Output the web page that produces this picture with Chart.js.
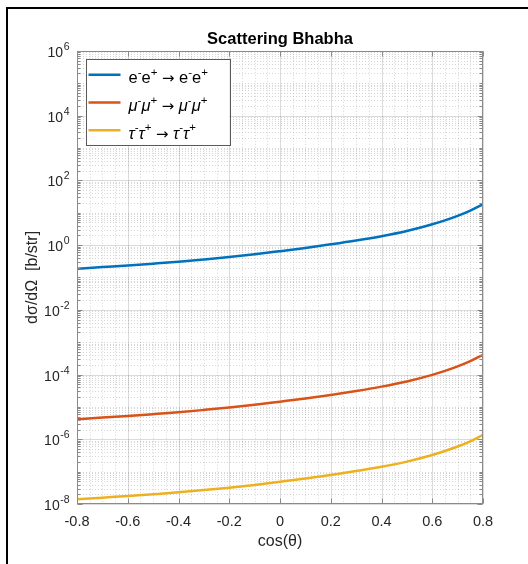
<!DOCTYPE html>
<html>
<head>
<meta charset="utf-8">
<script src="https://cdn.jsdelivr.net/npm/chart.js@4.4.1/dist/chart.umd.min.js"></script>
<style>
  html, body { margin: 0; padding: 0; background: #fff; }
</style>
</head>
<body>
<canvas id="bhabha" width="528" height="564"></canvas>
<script>
// data
const cosTheta = [-0.8, -0.7, -0.6, -0.5, -0.4, -0.3, -0.2, -0.1, 0, 0.1, 0.2, 0.3, 0.4, 0.5, 0.6, 0.65, 0.7, 0.75, 0.8]
const sigmaEE = [0.186, 0.209, 0.234, 0.266, 0.305, 0.359, 0.427, 0.519, 0.646, 0.813, 1.05, 1.38, 1.88, 2.72, 4.37, 5.77, 7.94, 11.6, 18.2]
const sigmaMuMu = [4.17e-6, 4.68e-6, 5.25e-6, 5.96e-6, 6.84e-6, 8.04e-6, 9.55e-6, 1.16e-5, 1.45e-5, 1.82e-5, 2.34e-5, 3.09e-5, 4.22e-5, 6.10e-5, 9.77e-5, 1.29e-4, 1.78e-4, 2.59e-4, 4.07e-4]
const sigmaTauTau = [1.40e-8, 1.57e-8, 1.76e-8, 2.00e-8, 2.29e-8, 2.69e-8, 3.20e-8, 3.89e-8, 4.84e-8, 6.10e-8, 7.85e-8, 1.04e-7, 1.41e-7, 2.04e-7, 3.27e-7, 4.33e-7, 5.96e-7, 8.67e-7, 1.36e-6]

const xTicks = [-0.8, -0.6, -0.4, -0.2, 0, 0.2, 0.4, 0.6, 0.8]
const yTickExps = [-8, -6, -4, -2, 0, 2, 4, 6]
const seriesLabels = ['e⁻e⁺ → e⁻e⁺', 'μ⁻μ⁺ → μ⁻μ⁺', 'τ⁻τ⁺ → τ⁻τ⁺']
const seriesColors = ['#0072BD', '#D95319', '#EDB120']

const FONT = '"Liberation Sans", Arial, Helvetica, sans-serif'
const AXIS_GRAY = '#8a8a8a'
const TEXT_GRAY = '#262626'

function toPoints(ys) {
  return cosTheta.map((c, i) => ({x: c, y: ys[i]}))
}

function hLine(ctx, x1, x2, y) {
  ctx.beginPath(); ctx.moveTo(x1, y); ctx.lineTo(x2, y); ctx.stroke()
}
function vLine(ctx, x, y1, y2) {
  ctx.beginPath(); ctx.moveTo(x, y1); ctx.lineTo(x, y2); ctx.stroke()
}

// text with ⁻ ⁺ raised and greek letters in italic, like the matlab tex labels
function drawRich(ctx, text, x, yBase, size) {
  let cx = x
  for (const ch of text) {
    let t = ch, dy = 0
    if (ch === '⁻' || ch === '⁺') {
      t = ch === '⁻' ? '-' : '+'
      ctx.font = (size * 0.7) + 'px ' + FONT
      dy = -size * 0.45
    } else if (ch === 'μ' || ch === 'τ') {
      ctx.font = 'italic ' + size + 'px ' + FONT
    } else if (ch === '→') {
      ctx.font = (size * 0.9) + 'px "DejaVu Sans", ' + FONT
    } else {
      ctx.font = size + 'px ' + FONT
    }
    ctx.fillText(t, cx, yBase + dy)
    cx += ctx.measureText(t).width
  }
}

// grid, box, ticks, legend and frame in matlab style
const matlabAxes = {
  id: 'matlabAxes',
  beforeDatasetsDraw(chart) {
    const {ctx, chartArea: a, scales: {x, y}} = chart
    ctx.save()
    ctx.lineWidth = 1

    // minor grid (dotted)
    ctx.strokeStyle = 'rgba(0,0,0,0.16)'
    ctx.setLineDash([1, 2])
    for (let e = yTickExps[0]; e < yTickExps[yTickExps.length - 1]; e++) {
      for (let k = 1; k < 10; k++) {
        if (k === 1 && yTickExps.includes(e)) continue
        const py = Math.round(y.getPixelForValue(k * Math.pow(10, e))) + 0.5
        hLine(ctx, a.left, a.right, py)
      }
    }
    for (let i = 0; i < xTicks.length - 1; i++) {
      for (let j = 1; j < 4; j++) {
        const v = xTicks[i] + (xTicks[i + 1] - xTicks[i]) * j / 4
        const px = Math.round(x.getPixelForValue(v)) + 0.5
        vLine(ctx, px, a.top, a.bottom)
      }
    }

    // major grid
    ctx.setLineDash([])
    ctx.strokeStyle = 'rgba(0,0,0,0.14)'
    yTickExps.forEach(e => {
      const py = Math.round(y.getPixelForValue(Math.pow(10, e))) + 0.5
      hLine(ctx, a.left, a.right, py)
    })
    xTicks.forEach(v => {
      const px = Math.round(x.getPixelForValue(v)) + 0.5
      vLine(ctx, px, a.top, a.bottom)
    })
    ctx.restore()
  },

  afterDatasetsDraw(chart) {
    const {ctx, chartArea: a, scales: {x, y}} = chart
    ctx.save()
    ctx.strokeStyle = AXIS_GRAY
    ctx.lineWidth = 1
    const L = Math.round(a.left) + 0.5, R = Math.round(a.right) - 0.5
    const T = Math.round(a.top) + 0.5, B = Math.round(a.bottom) - 0.5
    ctx.strokeRect(L, T, R - L, B - T)

    // y ticks inside, left and right
    for (let e = yTickExps[0]; e < yTickExps[yTickExps.length - 1]; e++) {
      for (let k = 1; k < 10; k++) {
        const py = Math.round(y.getPixelForValue(k * Math.pow(10, e))) + 0.5
        const len = (k === 1 && yTickExps.includes(e)) ? 5 : 3
        hLine(ctx, L, L + len, py)
        hLine(ctx, R - len, R, py)
      }
    }
    // x ticks inside, top and bottom
    xTicks.forEach(v => {
      const px = Math.round(x.getPixelForValue(v)) + 0.5
      vLine(ctx, px, B - 5, B)
      vLine(ctx, px, T, T + 5)
    })
    ctx.restore()
  },

  afterDraw(chart) {
    const {ctx, chartArea: a, scales: {y}} = chart
    ctx.save()

    // y tick labels 10^n
    ctx.fillStyle = TEXT_GRAY
    ctx.textBaseline = 'alphabetic'
    yTickExps.forEach(e => {
      const py = y.getPixelForValue(Math.pow(10, e))
      const sup = e < 0 ? '-' + Math.abs(e) : String(e)
      ctx.font = '14px ' + FONT
      const wBase = ctx.measureText('10').width
      ctx.font = '10.5px ' + FONT
      const wSup = ctx.measureText(sup).width
      const right = a.left - 8
      const x0 = right - wSup - wBase
      ctx.font = '14px ' + FONT
      ctx.fillText('10', x0, py + 6)
      ctx.font = '10.5px ' + FONT
      ctx.fillText(sup, x0 + wBase + 0.5, py - 1)
    })

    // legend box
    const lx = a.left + 8.5, ly = a.top + 8.5, lw = 144, lh = 86
    ctx.fillStyle = '#ffffff'
    ctx.fillRect(lx, ly, lw, lh)
    ctx.strokeStyle = '#5a5a5a'
    ctx.lineWidth = 1
    ctx.strokeRect(Math.round(lx) + 0.5, Math.round(ly) + 0.5, lw, lh)
    chart.data.datasets.forEach((ds, i) => {
      const rowY = ly + 15.5 + i * 27.7
      ctx.strokeStyle = ds.borderColor
      ctx.lineWidth = 2.5
      hLine(ctx, lx + 3, lx + 35, rowY)
      ctx.fillStyle = '#000000'
      drawRich(ctx, ds.label, lx + 43, rowY + 8.5, 16.5)
    })

    // outer frame of the figure
    ctx.fillStyle = '#000000'
    ctx.fillRect(6, 7, 2, 557)
    ctx.fillRect(6, 7, 522, 2)
    ctx.restore()
  }
}

const data = {
  datasets: [sigmaEE, sigmaMuMu, sigmaTauTau].map((ys, i) => ({
    label: seriesLabels[i],
    data: toPoints(ys),
    borderColor: seriesColors[i],
    backgroundColor: seriesColors[i],
    borderWidth: 2.5,
    pointRadius: 0,
    cubicInterpolationMode: 'monotone',
    fill: false,
  }))
}

const config = {
  type: 'line',
  data: data,
  options: {
    responsive: false,
    animation: false,
    devicePixelRatio: 1,
    layout: {padding: {top: 10, right: 45, bottom: 13, left: 0}},
    plugins: {
      legend: {display: false},
      tooltip: {enabled: false},
      title: {
        display: true,
        text: 'Scattering Bhabha',
        fullSize: false,
        color: '#000000',
        font: {family: FONT, size: 16.5, weight: 'bold'},
        padding: {top: 20, bottom: 1},
      },
    },
    scales: {
      x: {
        type: 'linear',
        min: -0.8,
        max: 0.8,
        afterBuildTicks: scale => { scale.ticks = xTicks.map(v => ({value: v})) },
        afterFit: scale => { scale.height = 47 },
        grid: {display: false, drawTicks: false},
        border: {display: false},
        ticks: {
          color: TEXT_GRAY,
          font: {family: FONT, size: 14.5},
          padding: 9,
          maxRotation: 0,
          autoSkip: false,
          callback: v => String(v),
        },
        title: {
          display: true,
          text: 'cos(θ)',
          color: TEXT_GRAY,
          font: {family: FONT, size: 16},
          padding: {top: 0, bottom: 0},
        },
      },
      y: {
        type: 'logarithmic',
        min: 1e-8,
        max: 1e6,
        afterFit: scale => { scale.width = 77 },
        grid: {display: false, drawTicks: false},
        border: {display: false},
        ticks: {display: false},
        title: {
          display: true,
          text: 'dσ/dΩ  [b/str]',
          color: TEXT_GRAY,
          font: {family: FONT, size: 16},
          padding: {top: 23, bottom: 0},
        },
      },
    },
  },
  plugins: [matlabAxes],
}

const bhabhaChart = new Chart(document.getElementById('bhabha'), config)
</script>
</body>
</html>
